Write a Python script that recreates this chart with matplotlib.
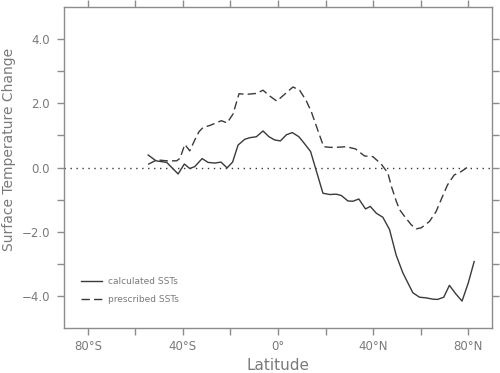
import matplotlib
matplotlib.use("Agg")
import matplotlib.pyplot as plt
from matplotlib.ticker import FixedLocator

# Data (latitude in degrees, negative = south)
lat_calc = [-54.6, -51.3, -46.8, -42.0, -39.4, -37.1, -35.0, -31.9, -29.4, -26.6,
            -24.0, -21.4, -19.1, -16.8, -14.0, -11.9, -9.1, -6.3, -3.8, -1.4,
            1.0, 3.5, 6.0, 8.8, 11.2, 13.7, 18.9, 21.7, 24.5, 26.6,
            29.4, 31.5, 34.0, 36.8, 38.8, 41.3, 44.1, 46.9, 49.7, 52.5,
            56.7, 59.5, 62.3, 65.0, 67.1, 69.7, 72.1, 74.7, 77.4, 80.0, 82.5]
sst_calc = [0.39, 0.21, 0.16, -0.20, 0.11, -0.03, 0.03, 0.28, 0.16, 0.14,
            0.17, -0.01, 0.17, 0.70, 0.88, 0.93, 0.96, 1.14, 0.96, 0.86,
            0.83, 1.02, 1.09, 0.96, 0.74, 0.50, -0.80, -0.84, -0.83, -0.87,
            -1.04, -1.05, -0.98, -1.29, -1.21, -1.42, -1.55, -1.93, -2.73, -3.28,
            -3.90, -4.04, -4.06, -4.10, -4.11, -4.04, -3.67, -3.93, -4.16, -3.60, -2.93]

lat_presc = [-54.6, -51.0, -46.8, -42.6, -41.2, -39.2, -37.1, -35.0, -33.2, -31.5,
             -28.7, -25.8, -23.8, -21.4, -18.9, -16.4, -13.3, -9.1, -6.3, -3.5,
             -0.5, 3.5, 6.3, 9.1, 11.9, 14.1, 16.8, 19.2, 21.7, 24.5,
             28.7, 32.6, 36.4, 39.9, 43.4, 46.2, 47.7, 49.8, 51.1, 53.2,
             56.0, 58.1, 60.2, 63.7, 66.5, 68.6, 71.3, 74.1, 76.3, 79.7]
sst_presc = [0.10, 0.24, 0.21, 0.21, 0.29, 0.72, 0.52, 0.86, 1.12, 1.25,
             1.31, 1.40, 1.46, 1.39, 1.67, 2.30, 2.28, 2.31, 2.41, 2.23,
             2.07, 2.33, 2.51, 2.41, 2.08, 1.72, 1.15, 0.65, 0.63, 0.63,
             0.65, 0.58, 0.36, 0.34, 0.11, -0.17, -0.59, -1.06, -1.31, -1.52,
             -1.78, -1.91, -1.88, -1.68, -1.37, -1.00, -0.54, -0.23, -0.16, 0.01]

xtick_pos = [-80, -40, 0, 40, 80]
xtick_labels = ["80°S", "40°S", "0°", "40°N", "80°N"]
ytick_pos = [-4, -2, 0, 2, 4]
ytick_labels = ["\u22124.0", "\u22122.0", "0.0", "2.0", "4.0"]

axis_col = "#8c8c8c"
text_col = "#7a7a7a"
line_col = "#3a3a3a"

fig = plt.figure(figsize=(5.0, 3.73), dpi=100)
ax = fig.add_axes([0.128, 0.1206, 0.856, 0.8604])

ax.axhline(0, color=line_col, lw=1.0, linestyle=(0, (1, 3.3)))
ax.plot(lat_calc, sst_calc, color=line_col, lw=1.0, label="calculated SSTs")
ax.plot(lat_presc, sst_presc, color=line_col, lw=1.0, linestyle=(0, (6, 3)),
        label="prescribed SSTs")

ax.set_xlim(-90, 90)
ax.set_ylim(-5, 5)

ax.xaxis.set_major_locator(FixedLocator(xtick_pos))
ax.set_xticklabels(xtick_labels)
ax.xaxis.set_minor_locator(FixedLocator([-60, -20, 20, 60]))
ax.yaxis.set_major_locator(FixedLocator(ytick_pos))
ax.set_yticklabels(ytick_labels)
ax.yaxis.set_minor_locator(FixedLocator([-3, -1, 1, 3]))

ax.tick_params(which="both", direction="out", length=5, width=1.0, color=axis_col,
               top=True, right=True, labelcolor=text_col, labelsize=8.5)
ax.tick_params(axis="x", which="major", pad=3.5)
ax.tick_params(axis="y", which="major", pad=5)
for s in ax.spines.values():
    s.set_color(axis_col)
    s.set_linewidth(1.0)

ax.set_xlabel("Latitude", color=text_col, fontsize=11, labelpad=4)
ax.set_ylabel("Surface Temperature Change", color=text_col, fontsize=10)
ax.yaxis.set_label_coords(-0.112, 0.558)

leg = ax.legend(loc="upper left", bbox_to_anchor=(0.02, 0.185), frameon=False,
                fontsize=6.5, handlelength=2.4, handletextpad=0.6, labelspacing=1.05)
for t in leg.get_texts():
    t.set_color(text_col)

fig.savefig("out.png", dpi=100)
